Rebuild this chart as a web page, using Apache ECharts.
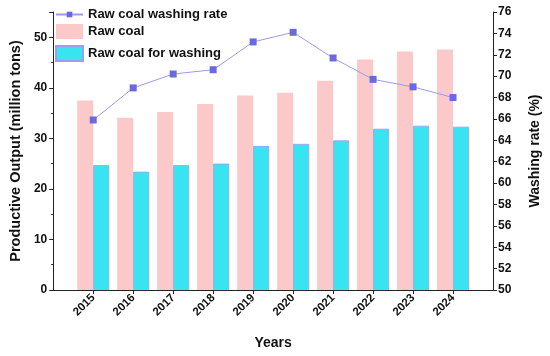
<!DOCTYPE html>
<html><head><meta charset="utf-8">
<script src="https://cdn.jsdelivr.net/npm/echarts@6/dist/echarts.min.js"></script>
<style>html,body{margin:0;padding:0;background:#fff}#c{width:550px;height:356px}</style>
</head><body><div id="c"></div>
<script>
const years = ['2014','2015','2016','2017','2018','2019','2020','2021','2022','2023','2024','2025'];
const rawCoal = ['-',37.5,34.1,35.2,36.8,38.5,39.0,41.4,45.6,47.2,47.6,'-'];
const rawCoalWashing = ['-',24.7,23.4,24.7,25.0,28.5,28.9,29.6,31.9,32.5,32.3,'-'];
const washingRate = ['-',65.9,68.9,70.2,70.6,73.2,74.1,71.7,69.7,69.0,68.0,'-'];

const FONT = 'Arial, "Liberation Sans", sans-serif';
const chart = echarts.init(document.getElementById('c'), null, {renderer:'canvas'});
const edge = (i) => i !== 0 && i !== years.length - 1;
const legendText = {fontFamily: FONT, fontWeight: 'bold', fontSize: 13, color: '#111'};
chart.setOption({
  animation: false,
  textStyle: {fontFamily: FONT},
  grid: {left: 50, right: 52, top: 12, bottom: 66},
  legend: [{
    orient: 'vertical', left: 55, top: 8, padding: 0, itemWidth: 27, itemHeight: 7,
    textStyle: legendText,
    data: ['Raw coal washing rate']
  }, {
    orient: 'vertical', left: 55, top: 24, padding: 0, itemWidth: 27, itemHeight: 15, itemGap: 6,
    textStyle: legendText, icon: 'rect',
    data: ['Raw coal', 'Raw coal for washing']
  }],
  xAxis: {
    type: 'category', data: years, boundaryGap: false,
    name: 'Years', nameLocation: 'middle', nameGap: 46,
    nameTextStyle: {fontFamily: FONT, fontWeight: 'bold', fontSize: 14, color: '#111'},
    axisLine: {lineStyle: {color: '#222', width: 1}},
    axisTick: {inside: false, length: 4, interval: (i) => edge(i), lineStyle: {color: '#222'}},
    axisLabel: {rotate: 45, fontWeight: 'bold', fontSize: 11.5, color: '#111', fontFamily: FONT,
      interval: (i) => edge(i), margin: 6},
    splitLine: {show: false}
  },
  yAxis: [{
    type: 'value', min: 0, max: 55, interval: 10,
    name: 'Productive Output (million tons)', nameLocation: 'middle', nameGap: 29,
    nameTextStyle: {fontFamily: FONT, fontWeight: 'bold', fontSize: 14.5, color: '#111'},
    axisLine: {show: true, lineStyle: {color: '#222'}},
    axisTick: {show: true, length: 4, lineStyle: {color: '#222'}},
    minorTick: {show: true, splitNumber: 2, length: 2, lineStyle: {color: '#222'}},
    axisLabel: {fontWeight: 'bold', fontSize: 12, color: '#111', fontFamily: FONT, margin: 6, showMaxLabel: false},
    splitLine: {show: false}
  }, {
    type: 'value', min: 50, max: 76, interval: 2, position: 'right',
    name: 'Washing rate (%)', nameLocation: 'middle', nameGap: 35,
    nameTextStyle: {fontFamily: FONT, fontWeight: 'bold', fontSize: 14, color: '#111'},
    axisLine: {show: true, lineStyle: {color: '#222'}},
    axisTick: {show: true, length: 4, lineStyle: {color: '#222'}},
    axisLabel: {fontWeight: 'bold', fontSize: 12, color: '#111', fontFamily: FONT, margin: 5},
    splitLine: {show: false}
  }],
  series: [{
    name: 'Raw coal washing rate', type: 'line', yAxisIndex: 1, data: washingRate,
    symbol: 'rect', symbolSize: 7, z: 5,
    lineStyle: {color: '#9a9aec', width: 1},
    itemStyle: {color: '#6a6add'}
  }, {
    name: 'Raw coal', type: 'bar', data: rawCoal, barWidth: 16, barGap: '0%',
    itemStyle: {color: '#fbc9c9'}
  }, {
    name: 'Raw coal for washing', type: 'bar', data: rawCoalWashing, barWidth: 16,
    itemStyle: {color: '#38e4f0', borderColor: '#9d9cf0', borderWidth: 0.8}
  }]
});
</script></body></html>
